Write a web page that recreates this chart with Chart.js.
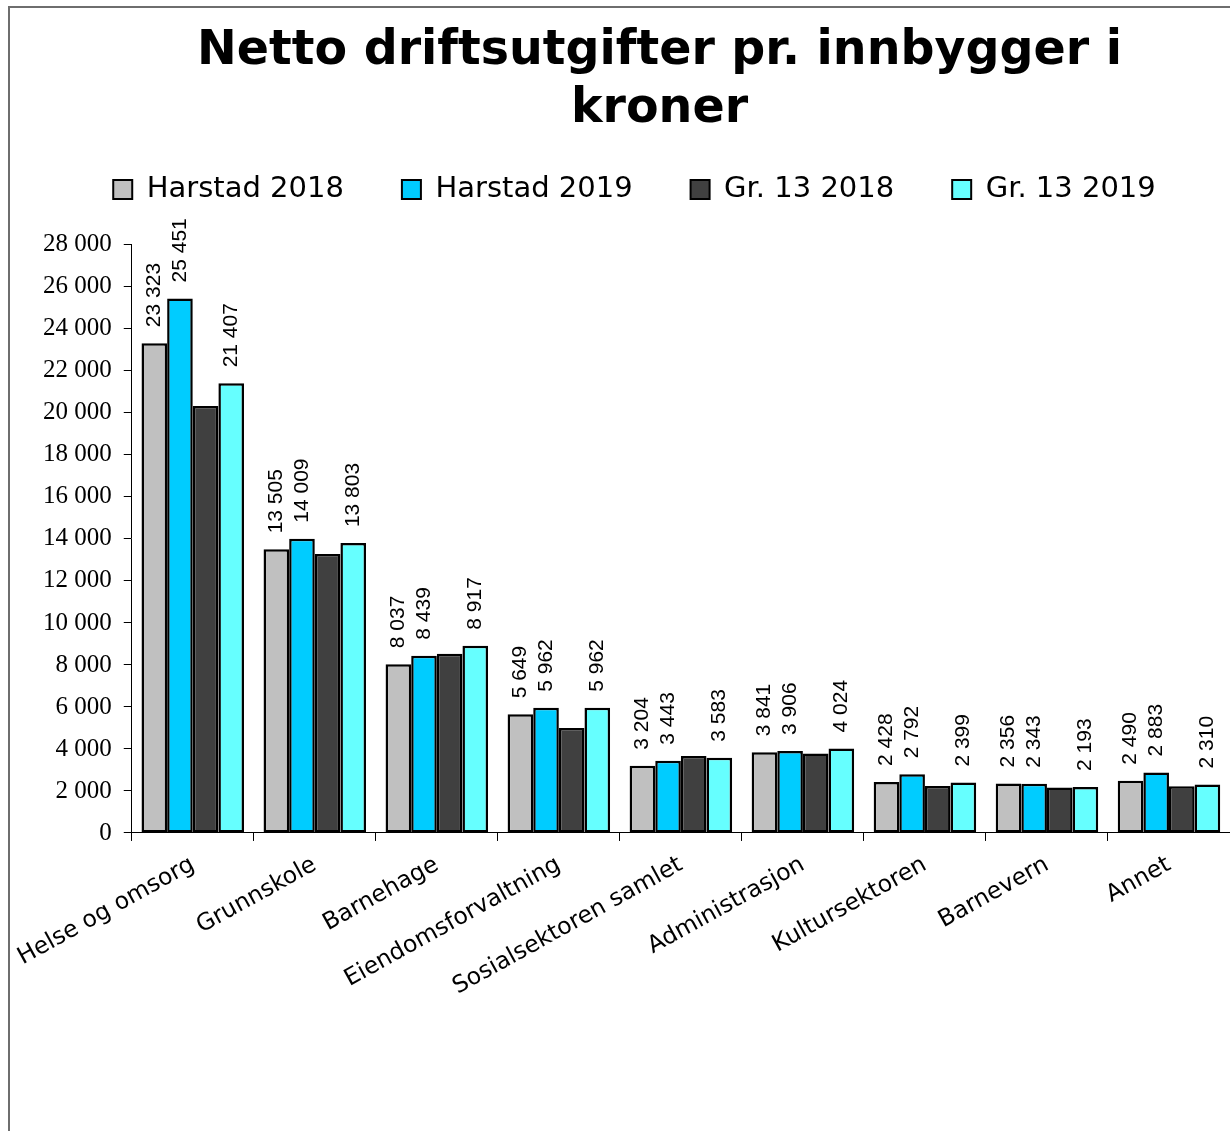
<!DOCTYPE html>
<html>
<head>
<meta charset="utf-8">
<script src="https://cdn.jsdelivr.net/npm/chart.js@4/dist/chart.umd.min.js"></script>
<style>
  body { margin: 0; background: #fff; }
  #frame { position: absolute; left: 8px; top: 6px; width: 1240px; height: 1140px;
           border-left: 2px solid #6e6e6e; border-top: 2px solid #6e6e6e; }
  #wrap { position: absolute; left: 0; top: 0; width: 1230px; height: 1131px; }
</style>
</head>
<body>
<div id="frame"></div>
<div id="wrap"><canvas id="chart"></canvas></div>
<script>
const categories = ["Helse og omsorg", "Grunnskole", "Barnehage", "Eiendomsforvaltning",
  "Sosialsektoren samlet", "Administrasjon", "Kultursektoren", "Barnevern", "Annet"];
const harstad2018 = [23323, 13505, 8037, 5649, 3204, 3841, 2428, 2356, 2490];
const harstad2019 = [25451, 14009, 8439, 5962, 3443, 3906, 2792, 2343, 2883];
const gr13_2018 = [20330, 13280, 8530, 5000, 3660, 3780, 2240, 2170, 2220];
const gr13_2019 = [21407, 13803, 8917, 5962, 3583, 4024, 2399, 2193, 2310];
const seriesNames = ["Harstad 2018", "Harstad 2019", "Gr. 13 2018", "Gr. 13 2019"];
const seriesColors = ["#c0c0c0", "#00ccff", "#404040", "#66ffff"];

function fmt(v) {
  return String(Math.round(v)).replace(/\B(?=(\d{3})+(?!\d))/g, " ");
}

// verdier over søylene (ikke for Gr. 13 2018)
const barLabels = {
  id: "barLabels",
  afterDatasetsDraw(chart) {
    const ctx = chart.ctx;
    ctx.save();
    ctx.font = "21px 'Liberation Sans', Arial, sans-serif";
    ctx.fillStyle = "#000";
    ctx.textAlign = "left";
    ctx.textBaseline = "middle";
    chart.data.datasets.forEach((ds, i) => {
      if (i === 2) return;
      chart.getDatasetMeta(i).data.forEach((bar, j) => {
        ctx.save();
        ctx.translate(bar.x, bar.y - 16);
        ctx.rotate(-Math.PI / 2);
        ctx.fillText(fmt(ds.data[j]), 0, 0);
        ctx.restore();
      });
    });
    ctx.restore();
  }
};

// flytt tittel og forklaring litt, slik at det blir luft over plottet
const moveBoxes = {
  id: "moveBoxes",
  afterLayout(chart) {
    const t = chart.titleBlock, l = chart.legend;
    t.left += 29; t.right += 29; t.top -= 31; t.bottom -= 31;
    l.left += 4; l.right += 4; l.top -= 31; l.bottom -= 31;
  }
};

const data = {
  labels: categories,
  datasets: [harstad2018, harstad2019, gr13_2018, gr13_2019].map((vals, i) => ({
    label: seriesNames[i],
    data: vals,
    backgroundColor: seriesColors[i],
    borderColor: "#000",
    borderWidth: 2.5,
    borderSkipped: false,
    categoryPercentage: 0.84,
    barPercentage: 1.0
  }))
};

new Chart(document.getElementById("chart"), {
  type: "bar",
  data: data,
  plugins: [barLabels, moveBoxes],
  options: {
    responsive: true,
    maintainAspectRatio: false,
    animation: false,
    layout: { padding: { left: 31, right: 0, top: 31, bottom: 120 } },
    plugins: {
      title: {
        display: true,
        text: ["Netto driftsutgifter pr. innbygger i", "kroner"],
        color: "#000",
        font: { family: "'DejaVu Sans', Verdana, sans-serif", size: 47.5, weight: "bold", lineHeight: 1.22 },
        padding: { top: 23, bottom: -22 }
      },
      legend: {
        display: true,
        labels: {
          color: "#000",
          font: { family: "'DejaVu Sans', Verdana, sans-serif", size: 29 },
          boxWidth: 19,
          boxHeight: 19,
          padding: 58,
          generateLabels(chart) {
            return chart.data.datasets.map((ds, i) => ({
              text: ds.label,
              fillStyle: ds.backgroundColor,
              strokeStyle: "#000",
              lineWidth: 2,
              fontColor: "#000",
              datasetIndex: i
            }));
          }
        }
      },
      tooltip: { enabled: false }
    },
    scales: {
      x: {
        grid: { display: true, drawOnChartArea: false, drawTicks: true, tickLength: 8, color: "#000", offset: true },
        border: { display: true, color: "#000", width: 1 },
        ticks: {
          color: "#000",
          font: { family: "'DejaVu Sans', Verdana, sans-serif", size: 23.5 },
          minRotation: 29,
          maxRotation: 29,
          autoSkip: false,
          padding: 10
        }
      },
      y: {
        min: 0,
        max: 28000,
        grid: { display: true, drawOnChartArea: false, drawTicks: true, tickLength: 8, color: "#000" },
        border: { display: true, color: "#000", width: 1 },
        ticks: {
          stepSize: 2000,
          color: "#000",
          font: { family: "'Liberation Serif', 'Times New Roman', serif", size: 25 },
          padding: 12,
          callback: (v) => fmt(v)
        }
      }
    }
  }
});
</script>
</body>
</html>
